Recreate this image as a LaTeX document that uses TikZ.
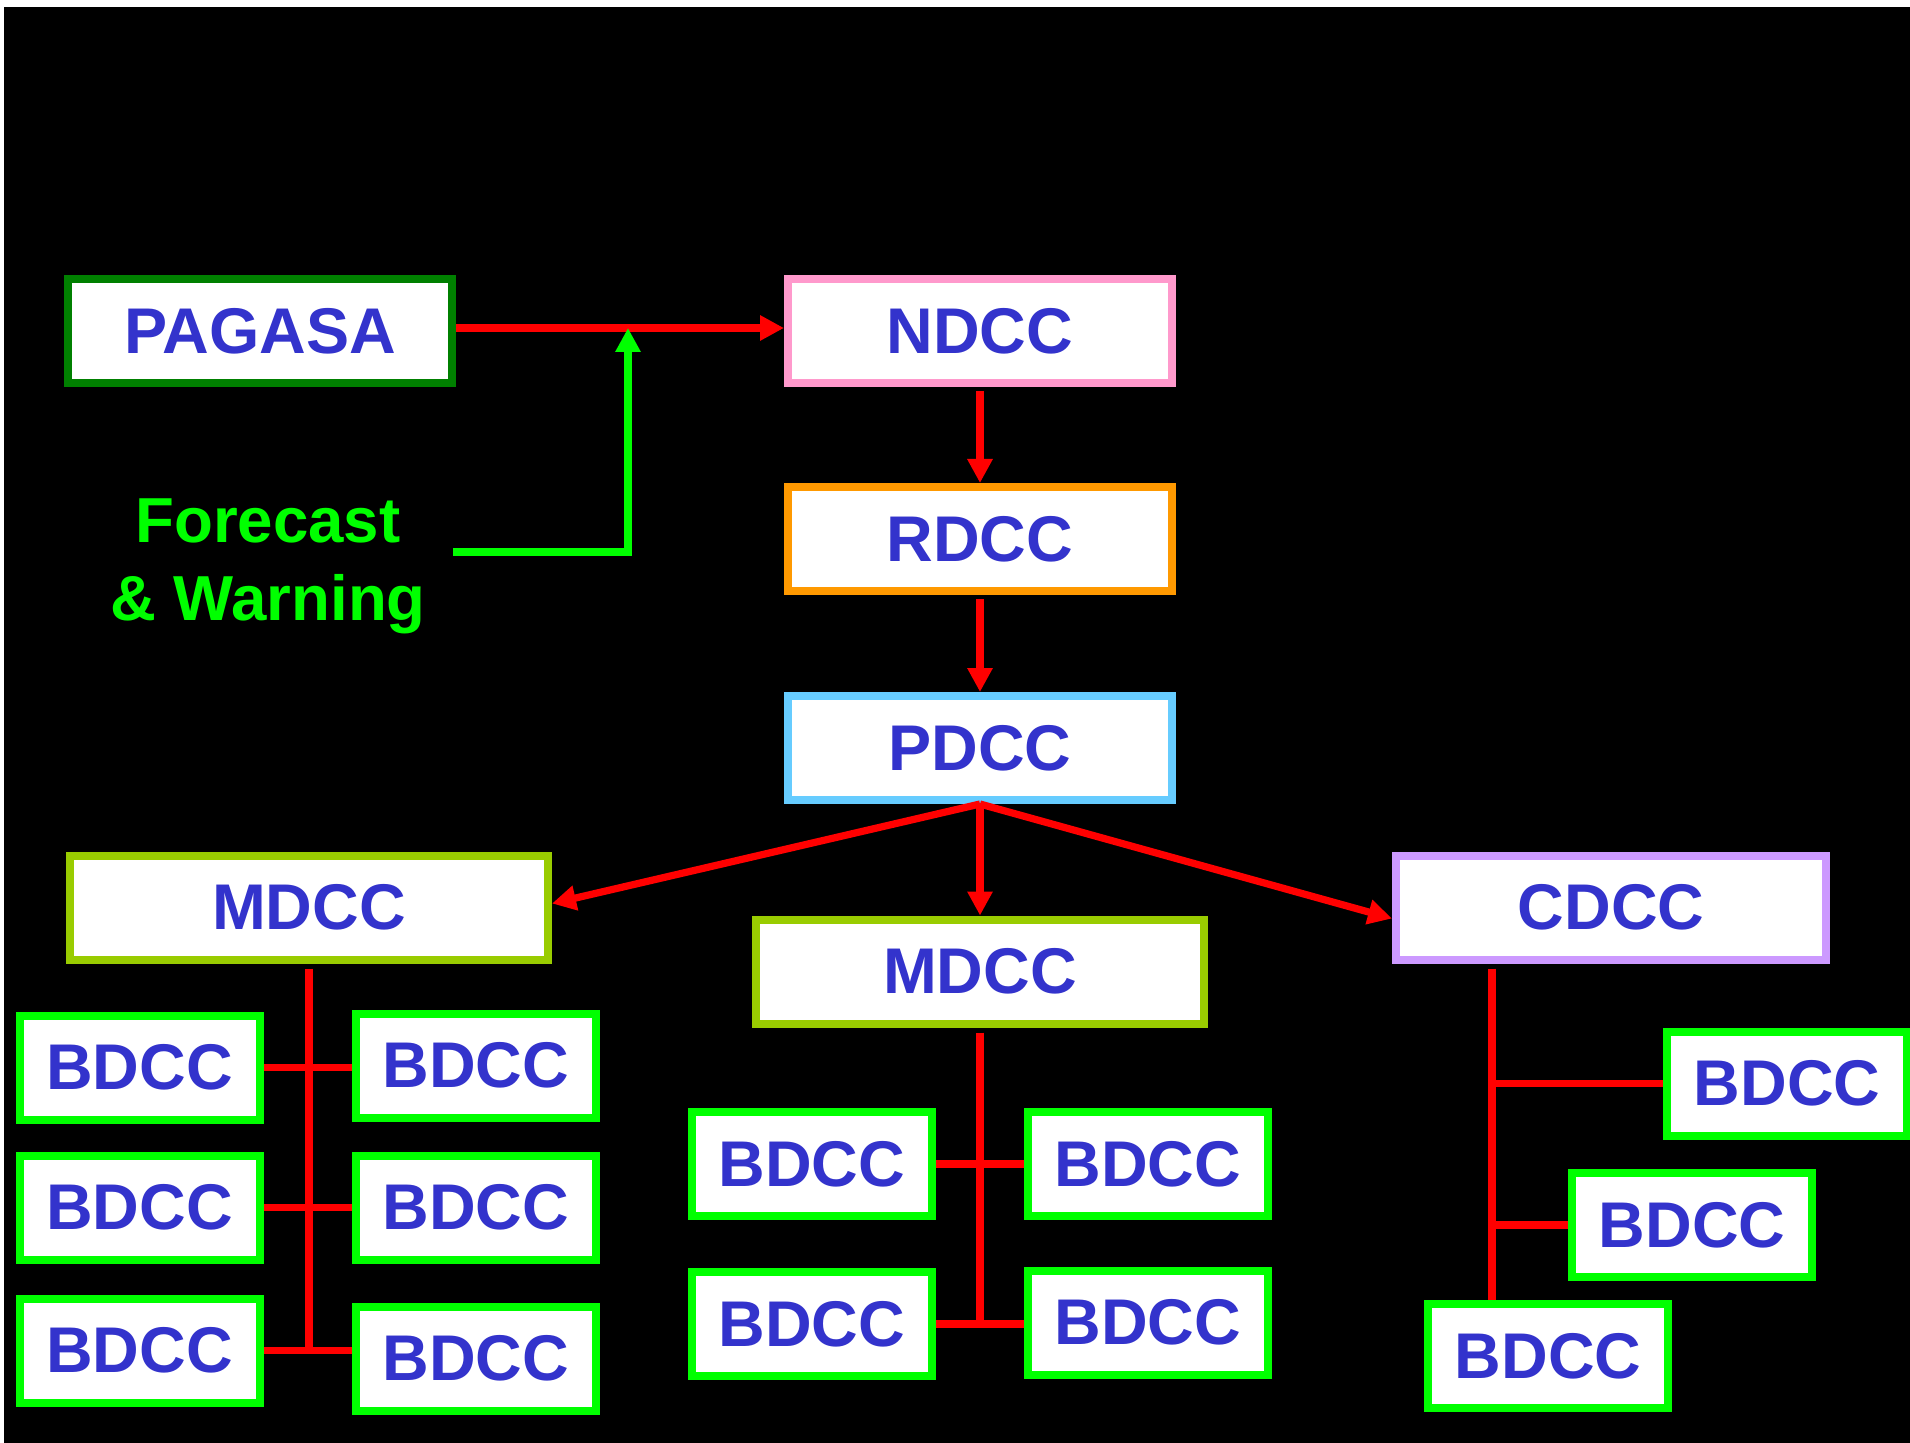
\documentclass[tikz,border=0pt]{standalone}
\usepackage{fontspec}
\setmainfont{Liberation Sans}
\usetikzlibrary{arrows.meta}
\definecolor{txtblue}{HTML}{3333CC}
\definecolor{pagasagreen}{HTML}{008000}
\definecolor{ndccpink}{HTML}{FF99CC}
\definecolor{rdccorange}{HTML}{FF9900}
\definecolor{pdccblue}{HTML}{66CCFF}
\definecolor{mdccgreen}{HTML}{99CC00}
\definecolor{cdccviolet}{HTML}{CC99FF}
\definecolor{bdgreen}{HTML}{00FF00}
\definecolor{linkred}{HTML}{FF0000}
\definecolor{fwgreen}{HTML}{00FF00}
\begin{document}
\begin{tikzpicture}[x=0.5pt,y=-0.5pt,
  box/.style={draw, line width=4pt, fill=white, text=txtblue,
    font=\fontsize{32.3}{36}\selectfont\bfseries, inner sep=0pt,
    minimum height=52pt},
  bigbox/.style={box, minimum width=192pt},
  bd/.style={box, draw=bdgreen, minimum width=120pt},
  link/.style={draw=linkred, line width=3.6pt},
  arr/.style={link, -{Triangle[width=12pt,length=12pt]}},
  garr/.style={draw=fwgreen, line width=3.6pt, -{Triangle[width=12pt,length=12pt]}},
  fwtext/.style={text=fwgreen, font=\fontsize{31.8}{36}\selectfont\bfseries, inner sep=0pt, anchor=base}
]
\useasboundingbox (0,0) rectangle (1910,1443);
\fill[white] (0,0) rectangle (1910,1443);
\fill[black] (4,7) rectangle (1910,1443);

% main chain
\node[bigbox, draw=pagasagreen] (pagasa) at (260,331) {PAGASA};
\node[bigbox, draw=ndccpink] (ndcc) at (980,331) {NDCC};
\node[bigbox, draw=rdccorange] (rdcc) at (980,539) {RDCC};
\node[bigbox, draw=pdccblue] (pdcc) at (980,748) {PDCC};
\node[box, draw=mdccgreen, minimum width=239pt] (mdccl) at (309,907.5) {MDCC};
\node[box, draw=mdccgreen, minimum width=224pt] (mdccm) at (980,971.5) {MDCC};
\node[box, draw=cdccviolet, minimum width=215pt] (cdcc) at (1611,907.5) {CDCC};

% BDCC under left MDCC
\node[bd] (l1) at (139.5,1067.5) {BDCC};
\node[bd] (l2) at (139.5,1207.5) {BDCC};
\node[bd] (l3) at (139.5,1350.5) {BDCC};
\node[bd] (r1) at (476,1065.5) {BDCC};
\node[bd] (r2) at (476,1207.5) {BDCC};
\node[bd] (r3) at (476,1358.5) {BDCC};
% BDCC under middle MDCC
\node[bd] (m1) at (812,1164) {BDCC};
\node[bd] (m2) at (812,1324) {BDCC};
\node[bd] (m3) at (1148,1164) {BDCC};
\node[bd] (m4) at (1148,1322.5) {BDCC};
% BDCC under CDCC
\node[bd] (c1) at (1787,1083.5) {BDCC};
\node[bd] (c2) at (1692,1225) {BDCC};
\node[bd] (c3) at (1548,1356) {BDCC};

% Forecast & Warning
\node[fwtext] (fc1) at (268,543) {Forecast};
\node[fwtext] (fc2) at (268,620) {\& Warning};

% connectors
\draw[arr] ([yshift=1.5pt]pagasa.east) -- ([yshift=1.5pt]ndcc.west);
\coordinate (gj) at (628,328);
\coordinate (fwend) at (453,552);
\draw[garr] (fwend) -| (gj);

\draw[arr, shorten <=2pt] (ndcc.south) -- (rdcc.north);
\draw[arr, shorten <=2pt] (rdcc.south) -- (pdcc.north);
\draw[arr] (pdcc.south) -- ([yshift=2pt]mdccl.east);
\draw[arr] (pdcc.south) -- (mdccm.north);
\draw[arr] (pdcc.south) -- ([yshift=-5.5pt]cdcc.west);

% left bus
\draw[link] ([yshift=-2.5pt]mdccl.south) -- (mdccl.south |- l3.east);
\draw[link] (l1.east) -- (l1.east -| r1.west);
\draw[link] (l2.east) -- (l2.east -| r2.west);
\draw[link] (l3.east) -- (l3.east -| r3.west);

% middle bus
\draw[link] ([yshift=-2.5pt]mdccm.south) -- (mdccm.south |- m2.east);
\draw[link] (m1.east) -- (m1.east -| m3.west);
\draw[link] (m2.east) -- (m2.east -| m4.west);

% CDCC bus
\coordinate (cb) at ([xshift=-59.5pt,yshift=-2.5pt]cdcc.south);
\draw[link] (cb) -- (cb |- c3.north);
\draw[link] (cb |- c1.west) -- (c1.west);
\draw[link] (cb |- c2.west) -- (c2.west);
\end{tikzpicture}
\end{document}
